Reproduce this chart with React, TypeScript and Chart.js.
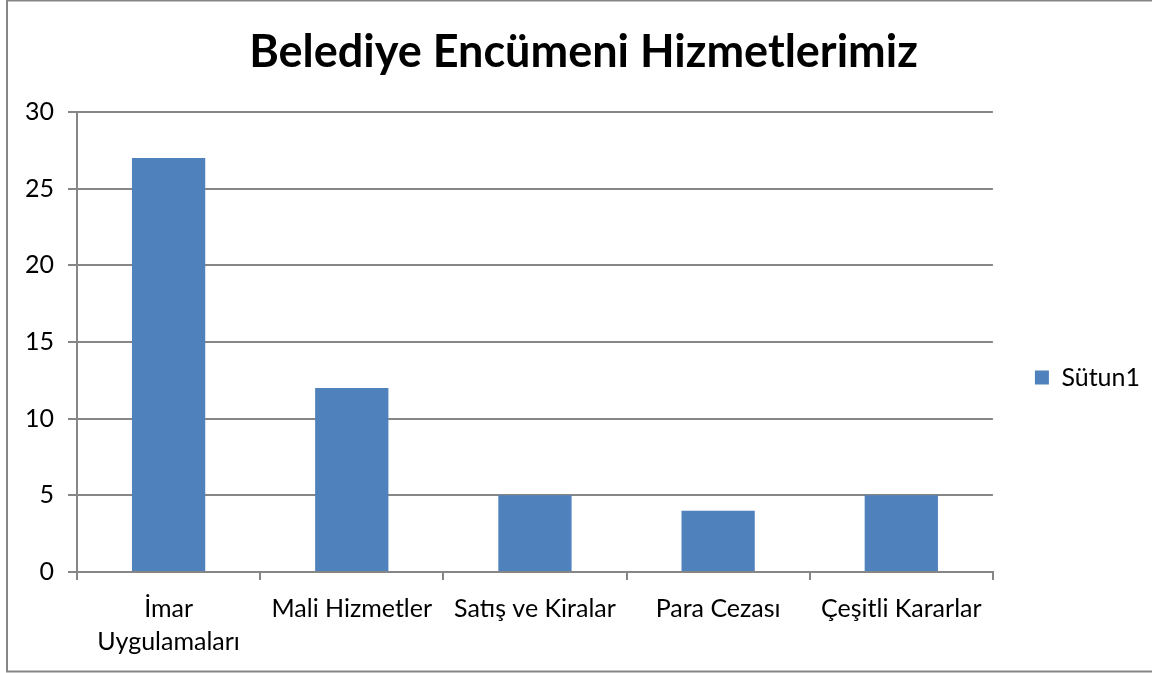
import React, { useEffect, useRef } from "react";
import { Chart, registerables } from "chart.js";

Chart.register(...registerables);

const categories: (string | string[])[] = [
  ["İmar", "Uygulamaları"],
  "Mali Hizmetler",
  "Satış ve Kiralar",
  "Para Cezası",
  "Çeşitli Kararlar",
];
const seriesName = "Sütun1";
const seriesValues = [27, 12, 5, 4, 5];
const titleText = "Belediye Encümeni Hizmetlerimiz";
const yMin = 0;
const yMax = 30;
const yStep = 5;

const W = 1152;
const H = 673;
const FONT = "Lato, 'Open Sans', sans-serif";
const GRID = "#868686";
const BAR = "#4F81BD";
const PAD_LEFT = 17;

const borderPlugin = {
  id: "outerBorder",
  beforeDraw(chart: any) {
    const ctx = chart.ctx;
    ctx.save();
    ctx.fillStyle = "#ffffff";
    ctx.fillRect(0, 0, chart.width, chart.height);
    ctx.strokeStyle = GRID;
    ctx.lineWidth = 2;
    ctx.strokeRect(7, 0.5, chart.width + 10, chart.height - 2);
    ctx.restore();
  },
};

export default function App() {
  const ref = useRef<HTMLCanvasElement>(null);
  useEffect(() => {
    const chart = new Chart(ref.current as HTMLCanvasElement, {
      type: "bar",
      data: {
        labels: categories,
        datasets: [
          {
            label: seriesName,
            data: seriesValues,
            backgroundColor: BAR,
            borderWidth: 0,
            categoryPercentage: 1,
            barPercentage: 0.4,
          },
        ],
      },
      options: {
        responsive: false,
        animation: false,
        layout: { padding: { left: PAD_LEFT, right: 2, top: 0, bottom: 0 } },
        plugins: {
          title: {
            display: true,
            text: titleText,
            color: "#000",
            font: { family: FONT, size: 45, weight: "bold", lineHeight: 1.2 },
            padding: { top: 25, bottom: 33 },
          },
          legend: {
            display: true,
            position: "right",
            title: {
              display: true,
              text: " ",
              font: { family: FONT, size: 10, lineHeight: 1 },
              padding: { top: 36, bottom: 36 },
            },
            labels: {
              boxWidth: 14,
              boxHeight: 14,
              padding: 42,
              color: "#000",
              font: { family: FONT, size: 25 },
            },
          },
          tooltip: { enabled: false },
        },
        scales: {
          x: {
            grid: {
              display: true,
              drawOnChartArea: false,
              drawTicks: true,
              tickLength: 8,
              color: GRID,
              lineWidth: 2,
              offset: true,
            },
            border: { display: true, color: GRID, width: 2 },
            ticks: {
              color: "#000",
              padding: 12,
              maxRotation: 0,
              autoSkip: false,
              font: { family: FONT, size: 25, lineHeight: 1.32 },
            },
            afterFit(scale: any) {
              scale.height = H - 572;
            },
          },
          y: {
            min: yMin,
            max: yMax,
            ticks: {
              stepSize: yStep,
              color: "#000",
              padding: 14,
              font: { family: FONT, size: 25 },
            },
            grid: {
              color: GRID,
              lineWidth: 2,
              tickLength: 9,
            },
            border: { display: true, color: GRID, width: 2 },
            afterFit(scale: any) {
              scale.width = 77 - PAD_LEFT;
            },
          },
        },
      },
      plugins: [borderPlugin],
    });
    return () => chart.destroy();
  }, []);
  return (
    <div style={{ position: "absolute", left: 0, top: 0, width: W, height: H, background: "#fff" }}>
      <canvas ref={ref} width={W} height={H} style={{ display: "block" }} />
    </div>
  );
}
